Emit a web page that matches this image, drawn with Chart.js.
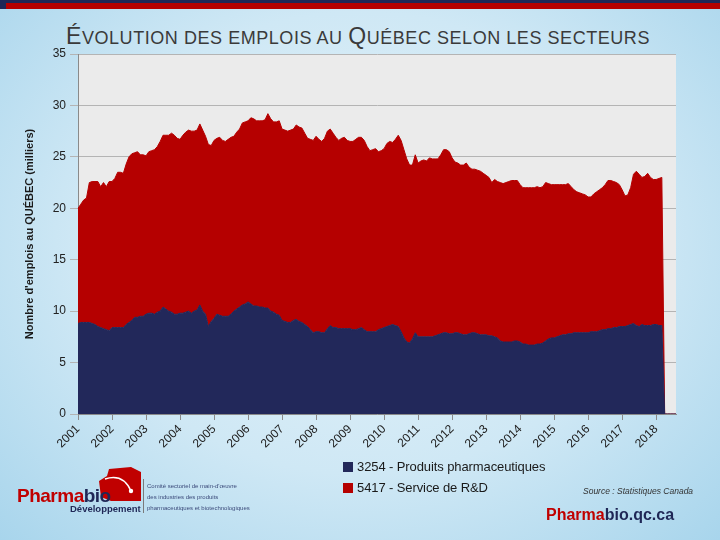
<!DOCTYPE html>
<html>
<head>
<meta charset="utf-8">
<script src="https://cdn.jsdelivr.net/npm/chart.js@4.4.1/dist/chart.umd.min.js"></script>
<style>
  html, body { margin: 0; padding: 0; }
  body {
    width: 720px; height: 540px; position: relative; overflow: hidden;
    background: radial-gradient(ellipse at 50% 45%, #e6f3f9 0%, #cfe8f5 55%, #a8d5ec 100%);
    font-family: "Liberation Sans", Arial, sans-serif;
  }
  #barNavy { position: absolute; left: 0; top: 0; width: 720px; height: 3px; background: #1f2756; }
  #barRed { position: absolute; left: 6px; top: 3px; width: 714px; height: 6px; background: #b50000; }
  #barCap { position: absolute; left: 0; top: 0; width: 6px; height: 9px; background: #1f2756; }
  #title {
    position: absolute; left: 0; width: 716px; top: 24px; text-align: center;
    font-size: 18px; color: #3a3a3a; line-height: 24px; letter-spacing: 0.55px;
  }
  #title .big { font-size: 23px; }
  canvas#chart { position: absolute; left: 0; top: 0; }
  .legend { position: absolute; left: 343px; font-size: 13px; color: #1a1a1a; letter-spacing: -0.1px; }
  .legend span.sw { display: inline-block; width: 10px; height: 10px; margin-right: 4px; vertical-align: -1px; }
  #source { position: absolute; left: 583px; top: 486px; font-size: 8.5px; font-style: italic; color: #333; }
  #site { position: absolute; left: 546px; top: 506px; font-size: 16px; font-weight: bold; color: #1f2756; }
  #site .r, #logoName .r { color: #c00000; }
  #logoName { position: absolute; left: 17px; top: 485px; font-size: 19px; font-weight: bold; color: #1f2756; letter-spacing: -0.5px; }
  #logoDev { position: absolute; left: 70px; top: 503px; font-size: 9.5px; font-weight: bold; color: #1f2756; }
  #logoSep { position: absolute; left: 143px; top: 479px; width: 1px; height: 34px; background: #7a7a7a; }
  #logoTxt { position: absolute; left: 147px; top: 481px; font-size: 6px; line-height: 11px; color: #3b4a7a; }
  #logoMark { position: absolute; left: 99px; top: 467px; }
</style>
</head>
<body>
<div id="barNavy"></div><div id="barRed"></div><div id="barCap"></div>
<div id="title"><span class="big">É</span>VOLUTION DES EMPLOIS AU <span class="big">Q</span>UÉBEC SELON LES SECTEURS</div>
<canvas id="chart" width="720" height="540"></canvas>
<div class="legend" id="leg0" style="top:459px;"></div>
<div class="legend" id="leg1" style="top:480px;"></div>
<div id="source">Source : Statistiques Canada</div>
<div id="site"><span class="r">Pharma</span>bio.qc.ca</div>
<svg id="logoMark" width="42" height="36" viewBox="0 0 42 36">
  <polygon points="10,2 32,0 42,5 42,34 12,34 2,30 0,14 8,9" fill="#c00000"/>
  <path d="M6,12 Q24,6 32,24" stroke="#fff" stroke-width="1.6" fill="none"/>
  <circle cx="32" cy="24" r="2.2" fill="#fff"/>
</svg>
<div id="logoName"><span class="r">Pharma</span>bio</div>
<div id="logoDev">Développement</div>
<div id="logoSep"></div>
<div id="logoTxt">Comité sectoriel de main-d'œuvre<br>des industries des produits<br>pharmaceutiques et biotechnologiques</div>

<script>
(() => {
  const years = ["2001", "2002", "2003", "2004", "2005", "2006", "2007", "2008", "2009",
    "2010", "2011", "2012", "2013", "2014", "2015", "2016", "2017", "2018"];
  const seriesLabels = ["3254 - Produits pharmaceutiques", "5417 - Service de R&D"];
  const seriesColors = ["#22285a", "#b50000"];

  // 3254 - Produits pharmaceutiques (milliers), mensuel, janv. 2001 -> août 2018
  const pharmaValues = [
    8.8, 8.9, 8.9, 8.9, 8.9, 8.8, 8.7, 8.5, 8.4, 8.3, 8.2, 8.1,
    8.4, 8.4, 8.4, 8.4, 8.4, 8.7, 8.9, 9.1, 9.4, 9.4, 9.5, 9.5,
    9.7, 9.8, 9.8, 9.7, 9.9, 10.0, 10.4, 10.2, 10.0, 9.9, 9.7, 9.7,
    9.8, 9.8, 9.9, 10.0, 9.8, 10.0, 10.1, 10.6, 10.0, 9.7, 8.5, 9.0,
    9.3, 9.7, 9.6, 9.5, 9.5, 9.5, 9.7, 10.0, 10.2, 10.4, 10.6, 10.7,
    10.9, 10.7, 10.5, 10.5, 10.4, 10.4, 10.3, 10.3, 10.0, 9.9, 9.7, 9.6,
    9.1, 9.0, 8.9, 8.9, 9.1, 9.2, 9.0, 8.9, 8.7, 8.5, 8.2, 7.9,
    8.0, 8.0, 7.9, 7.9, 8.3, 8.6, 8.4, 8.4, 8.3, 8.3, 8.3, 8.3,
    8.3, 8.2, 8.2, 8.3, 8.4, 8.2, 8.0, 8.0, 8.0, 8.0, 8.2, 8.3,
    8.4, 8.5, 8.6, 8.7, 8.6, 8.5, 8.0, 7.4, 7.0, 6.9, 7.3, 7.9,
    7.5, 7.5, 7.5, 7.5, 7.5, 7.5, 7.6, 7.7, 7.8, 7.9, 7.9, 7.8,
    7.8, 7.9, 7.9, 7.8, 7.7, 7.7, 7.8, 7.9, 7.9, 7.8, 7.7, 7.7,
    7.7, 7.6, 7.6, 7.5, 7.4, 7.1, 7.0, 7.0, 7.0, 7.0, 7.1, 7.1,
    7.0, 6.8, 6.8, 6.7, 6.7, 6.7, 6.8, 6.8, 6.9, 7.1, 7.3, 7.4,
    7.4, 7.5, 7.6, 7.7, 7.7, 7.8, 7.8, 7.9, 7.9, 7.9, 7.9, 7.9,
    7.9, 8.0, 8.0, 8.0, 8.1, 8.2, 8.2, 8.3, 8.3, 8.4, 8.4, 8.5,
    8.5, 8.5, 8.6, 8.7, 8.8, 8.6, 8.5, 8.7, 8.6, 8.6, 8.6, 8.7,
    8.7, 8.6, 8.6, 0, 0, 0, 0, 0
  ];

  // 5417 - Service de R&D (milliers), empilé au-dessus
  const rdValues = [
    11.2, 11.5, 11.9, 12.1, 13.6, 13.8, 13.9, 14.1, 13.7, 14.2, 13.9, 14.5,
    14.2, 14.5, 15.1, 15.1, 15.0, 15.6, 16.1, 16.2, 16.0, 16.1, 15.7, 15.7,
    15.4, 15.7, 15.8, 16.0, 16.1, 16.5, 16.7, 16.9, 17.1, 17.4, 17.4, 17.1,
    16.9, 17.3, 17.5, 17.6, 17.7, 17.5, 17.5, 17.6, 17.6, 17.3, 17.7, 17.1,
    17.3, 17.1, 17.3, 17.1, 17.0, 17.2, 17.2, 17.0, 17.2, 17.3, 17.7, 17.7,
    17.6, 18.1, 18.2, 18.0, 18.1, 18.1, 18.3, 18.9, 18.7, 18.5, 18.7, 18.9,
    18.6, 18.6, 18.6, 18.7, 18.6, 18.9, 18.9, 18.9, 18.6, 18.3, 18.5, 18.7,
    19.0, 18.7, 18.6, 18.9, 19.2, 19.1, 18.9, 18.5, 18.3, 18.5, 18.6, 18.3,
    18.2, 18.3, 18.5, 18.6, 18.5, 18.4, 18.0, 17.6, 17.7, 17.8, 17.3, 17.3,
    17.4, 17.8, 17.9, 17.7, 18.1, 18.6, 18.6, 18.3, 17.8, 17.3, 16.9, 17.3,
    16.9, 17.1, 17.2, 17.1, 17.4, 17.3, 17.2, 17.1, 17.4, 17.8, 17.8, 17.7,
    17.1, 16.6, 16.5, 16.4, 16.5, 16.7, 16.2, 15.9, 15.9, 15.9, 15.9, 15.7,
    15.5, 15.4, 14.9, 15.3, 15.2, 15.4, 15.4, 15.5, 15.6, 15.7, 15.6, 15.6,
    15.3, 15.2, 15.2, 15.3, 15.3, 15.3, 15.3, 15.2, 15.2, 15.4, 15.1, 14.9,
    14.9, 14.8, 14.7, 14.6, 14.6, 14.6, 14.3, 13.9, 13.7, 13.6, 13.5, 13.4,
    13.2, 13.1, 13.4, 13.6, 13.7, 13.8, 14.1, 14.4, 14.4, 14.2, 14.1, 13.8,
    13.3, 12.7, 12.7, 13.3, 14.5, 15.0, 14.8, 14.3, 14.5, 14.8, 14.4, 14.1,
    14.1, 14.3, 14.4, 0, 0, 0, 0, 0
  ];

  const months = ["01", "02", "03", "04", "05", "06", "07", "08", "09", "10", "11", "12"];
  const categories = [];
  years.forEach(y => months.forEach(m => categories.push(y + "-" + m)));
  const labels = categories.slice(0, pharmaValues.length);

  // legend
  seriesLabels.forEach((txt, i) => {
    const el = document.getElementById("leg" + i);
    el.innerHTML = '<span class="sw" style="background:' + seriesColors[i] + '"></span>';
    el.appendChild(document.createTextNode(txt));
  });

  const plotBg = {
    id: "plotBg",
    beforeDraw(chart) {
      const { ctx, chartArea: a } = chart;
      ctx.save();
      ctx.fillStyle = "#ebebeb";
      ctx.fillRect(a.left, a.top, a.right - a.left, a.bottom - a.top);
      ctx.restore();
    }
  };

  const ctx = document.getElementById("chart").getContext("2d");
  new Chart(ctx, {
    type: "line",
    data: {
      labels,
      datasets: [{
        label: seriesLabels[0],
        data: pharmaValues,
        backgroundColor: seriesColors[0],
        borderColor: seriesColors[0],
        borderWidth: 1,
        fill: "origin",
        pointRadius: 0,
        tension: 0,
      }, {
        label: seriesLabels[1],
        data: rdValues,
        backgroundColor: seriesColors[1],
        borderColor: seriesColors[1],
        borderWidth: 1,
        fill: "-1",
        pointRadius: 0,
        tension: 0,
      }]
    },
    options: {
      responsive: false,
      animation: false,
      layout: { padding: { top: 54, left: 0, right: 44, bottom: 76 } },
      plugins: { legend: { display: false }, tooltip: { enabled: false } },
      scales: {
        x: {
          offset: false,
          // ticks with a null label are dropped, so only the January ticks remain
          grid: { drawOnChartArea: false, tickLength: 6, color: "#8a8a8a" },
          border: { color: "#8a8a8a" },
          ticks: {
            autoSkip: false, minRotation: 45, maxRotation: 45, padding: 2,
            color: "#222", font: { family: "Liberation Sans", size: 12 },
            callback: (v, i) => (i % 12 === 0 ? years[i / 12] : null),
          },
          afterFit: s => { s.height = 50; },
        },
        y: {
          stacked: true, min: 0, max: 35,
          ticks: { stepSize: 5, padding: 4, color: "#222", font: { family: "Liberation Sans", size: 12 } },
          grid: { color: "#b4b4b4", tickLength: 8 },
          border: { color: "#8a8a8a" },
          title: {
            display: true, text: "Nombre d'emplois au QUÉBEC (milliers)",
            color: "#1a1a1a", font: { family: "Liberation Sans", size: 11, weight: "bold" },
            padding: { top: 23, bottom: 0 },
          },
          afterFit: s => { s.width = 78; },
        }
      }
    },
    plugins: [plotBg]
  });
})();
</script>
</body>
</html>
